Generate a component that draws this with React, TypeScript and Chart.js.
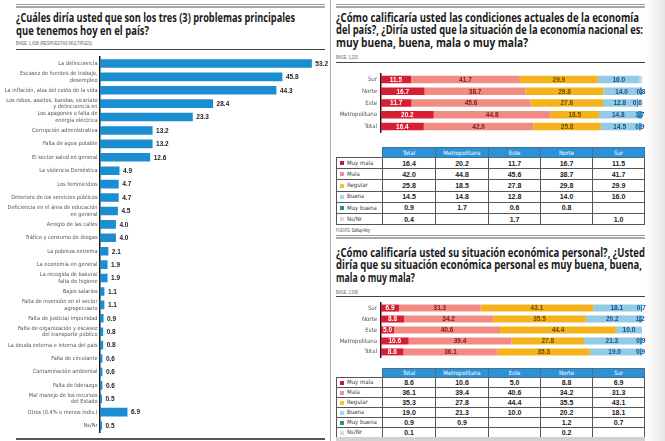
import React, { useEffect, useLayoutEffect, useRef } from "react";
import { Chart, registerables } from "chart.js";

Chart.register(...registerables);

// ---------------- DATA ----------------
const problemLabels: (string | string[])[] = [
  "La delincuencia",
  ["Escasez de fuentes de trabajo,", "desempleo"],
  "La inflación, alza del costo de la vida",
  ["Los robos, asaltos, bandas, sicariato", "y delincuencia en"],
  ["Los apagones o falta de", "energía eléctrica"],
  "Corrupción administrativa",
  "Falta de agua potable",
  "El sector salud en general",
  "La violencia Doméstica",
  "Los feminicidios",
  "Deterioro de los servicios públicos",
  ["Deficiencia en el área de educación", "en general"],
  "Arreglo de las calles",
  "Tráfico y consumo de drogas",
  "La pobreza extrema",
  "La economía en general",
  ["La recogida de basura/", "falta de higiene"],
  "Bajos salarios",
  ["Falta de inversión en el sector", "agropecuario"],
  "Falta de justicia/ impunidad",
  ["Falta de organización y escasez", "del transporte público"],
  "La deuda externa e interna del país",
  "Falta de circulante",
  "Contaminación ambiental",
  "Falta de liderazgo",
  ["Mal manejo de los recursos", "del Estado"],
  "Otros (0.4% o menos indiv.)",
  "Ns/Nr",
];
const problemValues = [
  53.2, 45.8, 44.3, 28.4, 23.3, 13.2, 13.2, 12.6, 4.9, 4.7, 4.7, 4.5, 4.0, 4.0,
  2.1, 1.9, 1.9, 1.1, 1.1, 0.9, 0.8, 0.8, 0.6, 0.6, 0.6, 0.5, 6.9, 0.5,
];

const regionColumns = ["Total", "Metropolitana", "Este", "Norte", "Sur"];
const ratingLabels = ["Muy mala", "Mala", "Regular", "Buena", "Muy buena", "Ns/Nr"];

// national economy (order = regionColumns)
const nacMuyMala = [16.4, 20.2, 11.7, 16.7, 11.5];
const nacMala = [42.0, 44.8, 45.6, 38.7, 41.7];
const nacRegular = [25.8, 18.5, 27.8, 29.8, 29.9];
const nacBuena = [14.5, 14.8, 12.8, 14.0, 16.0];
const nacMuyBuena = [0.9, 1.7, 0.6, 0.8, null];
const nacNsNr = [0.4, null, 1.7, null, 1.0];

// personal economy (order = regionColumns)
const perMuyMala = [8.6, 10.6, 5.0, 8.8, 6.9];
const perMala = [36.1, 39.4, 40.6, 34.2, 31.3];
const perRegular = [35.3, 27.8, 44.4, 35.5, 43.1];
const perBuena = [19.0, 21.3, 10.0, 20.2, 18.1];
const perMuyBuena = [0.9, 0.9, null, 1.2, 0.7];
const perNsNr = [0.1, null, null, 0.2, null];

// ---------------- STYLE ----------------
const NARROW = '"Liberation Sans Narrow", "DejaVu Sans Condensed", "Liberation Sans", sans-serif';
const SANS = '"Liberation Sans", Arial, sans-serif';
const TITLE_FONT = '"Open Sans", "Noto Sans", sans-serif';
const segColors = ["#d81e34", "#f28b82", "#f5b31b", "#92cbe8", "#2f8fd6", "#d6d6d6"];
const segLabelColors = ["#ffffff", "#7a2020", "#6a4a00", "#1d4f86", "#1d4f86"];
const markerColors = ["#c4174f", "#ef8f9a", "#f4c22b", "#a9d5ec", "#23909c", "#dadada"];

function FitLine(props: {
  text: React.ReactNode;
  x: number;
  y: number;
  w: number;
  size: number;
  weight?: number;
  color?: string;
  family?: string;
}) {
  const ref = useRef<HTMLDivElement>(null);
  useLayoutEffect(() => {
    const el = ref.current;
    if (!el) return;
    const fit = () => {
      el.style.transform = "none";
      const nat = el.getBoundingClientRect().width;
      if (nat > 0) el.style.transform = `scaleX(${props.w / nat})`;
    };
    fit();
    const fonts: any = (document as any).fonts;
    if (fonts && fonts.ready) fonts.ready.then(fit);
  }, [props.w]);
  return (
    <div
      ref={ref}
      style={{
        position: "absolute",
        left: props.x,
        top: props.y,
        whiteSpace: "nowrap",
        fontSize: props.size,
        lineHeight: `${props.size}px`,
        fontWeight: props.weight ?? 700,
        fontFamily: props.family ?? TITLE_FONT,
        color: props.color ?? "#1a1a1a",
        transformOrigin: "0 0",
      }}
    >
      {props.text}
    </div>
  );
}

function HLine({ x, y, w, h, color }: { x: number; y: number; w: number; h: number; color: string }) {
  return <div style={{ position: "absolute", left: x, top: y, width: w, height: h, background: color }} />;
}

function ProblemsChart() {
  const ref = useRef<HTMLCanvasElement>(null);
  useEffect(() => {
    const valuePlugin = {
      id: "valueLabels",
      afterDatasetsDraw(chart: any) {
        const ctx = chart.ctx;
        const meta = chart.getDatasetMeta(0);
        ctx.save();
        ctx.font = `bold 6.5px ${SANS}`;
        ctx.fillStyle = "#1e1e1e";
        ctx.textAlign = "left";
        ctx.textBaseline = "middle";
        meta.data.forEach((el: any, i: number) => {
          const v = chart.data.datasets[0].data[i];
          ctx.fillText(Number(v).toFixed(1), el.x + 3.5, el.y + 0.5);
        });
        ctx.restore();
      },
    };
    const chart = new Chart(ref.current!, {
      type: "bar",
      data: {
        labels: problemLabels,
        datasets: [
          {
            data: problemValues,
            backgroundColor: "#1b8ed1",
            barPercentage: 0.64,
            categoryPercentage: 1,
          },
        ],
      },
      options: {
        indexAxis: "y",
        animation: false,
        responsive: false,
        maintainAspectRatio: false,
        layout: { padding: { top: 0, bottom: 0, left: 0, right: 7 } },
        plugins: { legend: { display: false }, tooltip: { enabled: false } },
        scales: {
          x: { display: false, min: 0, max: 56 },
          y: {
            grid: { display: false, drawTicks: false },
            border: { display: true, color: "#1a1a1a", width: 1.5 },
            ticks: {
              autoSkip: false,
              padding: 2.5,
              color: "#555",
              font: { size: 5.6, family: NARROW, lineHeight: 1.15 },
            },
            afterFit: (s: any) => {
              s.width = 100;
            },
          },
        },
      } as any,
      plugins: [valuePlugin],
    });
    return () => chart.destroy();
  }, []);
  return (
    <canvas
      ref={ref}
      width={330}
      height={387}
      style={{ position: "absolute", left: 0, top: 51, width: 330, height: 387 }}
    />
  );
}

function StackedChart({ top, height, series }: { top: number; height: number; series: (number | null)[][] }) {
  const ref = useRef<HTMLCanvasElement>(null);
  useEffect(() => {
    const labelPlugin = {
      id: "stackLabels",
      afterDatasetsDraw(chart: any) {
        const ctx = chart.ctx;
        ctx.save();
        ctx.font = `bold 6.5px ${SANS}`;
        ctx.textAlign = "center";
        ctx.textBaseline = "middle";
        chart.data.datasets.forEach((ds: any, di: number) => {
          if (di > 4) return;
          const meta = chart.getDatasetMeta(di);
          meta.data.forEach((el: any, i: number) => {
            const v = ds.data[i];
            if (v == null) return;
            const p = el.getProps(["x", "y", "base"], true);
            ctx.fillStyle = segLabelColors[di];
            ctx.fillText(Number(v).toFixed(1), (p.x + p.base) / 2, p.y + 0.5);
          });
        });
        ctx.restore();
      },
    };
    const labels = [...regionColumns].reverse();
    const chart = new Chart(ref.current!, {
      type: "bar",
      data: {
        labels,
        datasets: series.map((arr, k) => ({
          label: ratingLabels[k],
          data: [...arr].reverse(),
          backgroundColor: segColors[k],
          barPercentage: 0.64,
          categoryPercentage: 1,
          clip: false,
        })),
      },
      options: {
        indexAxis: "y",
        animation: false,
        responsive: false,
        maintainAspectRatio: false,
        layout: { padding: { top: 0, bottom: 0, left: 0, right: 11 } },
        plugins: { legend: { display: false }, tooltip: { enabled: false } },
        scales: {
          x: { stacked: true, display: false, min: 0, max: 100 },
          y: {
            stacked: true,
            grid: { display: false, drawTicks: false },
            border: { display: true, color: "#1a1a1a", width: 1.5 },
            ticks: {
              padding: 4,
              color: "#555",
              font: { size: 6, family: NARROW },
            },
            afterFit: (s: any) => {
              s.width = 48;
            },
          },
        },
      } as any,
      plugins: [labelPlugin],
    });
    return () => chart.destroy();
  }, []);
  return (
    <canvas
      ref={ref}
      width={320}
      height={height}
      style={{ position: "absolute", left: 333, top, width: 320, height }}
    />
  );
}

function RatingTable({ top, headH, rowH, series }: { top: number; headH: number; rowH: number; series: (number | null)[][] }) {
  const colW = [46, 53, 53, 52, 52, 52];
  const headStyle: React.CSSProperties = {
    background: "#2b92d8",
    color: "#fff",
    fontSize: 6,
    fontWeight: 400,
    fontFamily: NARROW,
    border: "1px solid #4a6f8c",
    padding: 0,
    lineHeight: "6px",
    textAlign: "center",
  };
  const labelCell: React.CSSProperties = {
    border: "1px solid #555",
    padding: "0 0 0 3px",
    fontSize: 6,
    lineHeight: "6px",
    color: "#3a3a3a",
    fontFamily: NARROW,
    textAlign: "left",
    whiteSpace: "nowrap",
  };
  const valCell: React.CSSProperties = {
    border: "1px solid #555",
    padding: 0,
    fontSize: 7,
    lineHeight: "7px",
    fontWeight: 700,
    color: "#222",
    fontFamily: SANS,
    textAlign: "center",
  };
  return (
    <table
      style={{
        position: "absolute",
        left: 336,
        top,
        width: 308,
        borderCollapse: "collapse",
        tableLayout: "fixed",
        background: "#fff",
      }}
    >
      <colgroup>
        {colW.map((w, i) => (
          <col key={i} style={{ width: w }} />
        ))}
      </colgroup>
      <thead>
        <tr style={{ height: headH }}>
          <th style={{ border: "none", padding: 0 }}></th>
          {regionColumns.map((r) => (
            <th key={r} style={headStyle}>
              {r}
            </th>
          ))}
        </tr>
      </thead>
      <tbody>
        {ratingLabels.map((lab, k) => (
          <tr key={lab} style={{ height: rowH }}>
            <td style={labelCell}>
              <span
                style={{
                  display: "inline-block",
                  width: 4,
                  height: 4,
                  background: markerColors[k],
                  marginRight: 3,
                  verticalAlign: "middle",
                }}
              />
              <span style={{ verticalAlign: "middle" }}>{lab}</span>
            </td>
            {series[k].map((v, i) => (
              <td key={i} style={valCell}>
                {v == null ? "" : v.toFixed(1)}
              </td>
            ))}
          </tr>
        ))}
      </tbody>
    </table>
  );
}

export default function App() {
  const nacSeries = [nacMuyMala, nacMala, nacRegular, nacBuena, nacMuyBuena, nacNsNr];
  const perSeries = [perMuyMala, perMala, perRegular, perBuena, perMuyBuena, perNsNr];
  const T = 13;
  return (
    <div
      style={{
        position: "fixed",
        left: 0,
        top: 0,
        width: 665,
        height: 441,
        background: "#fff",
        overflow: "hidden",
      }}
    >
      {/* right gutter shading */}
      <div
        style={{
          position: "absolute",
          left: 646,
          top: 0,
          width: 19,
          height: 441,
          background: "linear-gradient(to right, #ffffff, #e6e6e6)",
        }}
      />
      {/* vertical divider */}
      <HLine x={330} y={0} w={1} h={441} color="#a8a8a8" />

      {/* ---------- LEFT PANEL ---------- */}
      <HLine x={16} y={4} w={309} h={1} color="#9a9a9a" />
      <HLine x={16} y={6} w={309} h={2} color="#a9a9a9" />
      <FitLine text="¿Cuáles diría usted que son los tres (3) problemas principales" x={16} y={11} w={279} size={T} />
      <FitLine text="que tenemos hoy en el país?" x={16} y={23.5} w={133} size={T} />
      <FitLine text="BASE: 1,608 (RESPUESTAS MULTIPLES)" x={16} y={41} w={76} size={5} weight={400} color="#666" family={SANS} />
      <HLine x={16} y={49} w={309} h={1} color="#444" />
      <ProblemsChart />
      <HLine x={16} y={438} w={309} h={1.5} color="#555" />

      {/* ---------- RIGHT TOP PANEL ---------- */}
      <HLine x={336} y={4} w={309} h={1} color="#9a9a9a" />
      <HLine x={336} y={6} w={309} h={2} color="#a9a9a9" />
      <FitLine text="¿Cómo calificaría usted las condiciones actuales de la economía" x={336} y={10.5} w={303} size={T} />
      <FitLine text="del país?, ¿Diría usted que la situación de la economía nacional es:" x={336} y={23} w={307} size={T} />
      <FitLine text="muy buena, buena, mala o muy mala?" x={336} y={35.5} w={192} size={T} />
      <FitLine text="BASE: 1,203" x={336} y={55} w={22} size={5} weight={400} color="#666" family={SANS} />
      <HLine x={336} y={62} w={309} h={1} color="#444" />
      <StackedChart top={66} height={74} series={nacSeries} />
      <RatingTable top={147} headH={10} rowH={11.2} series={nacSeries} />
      <FitLine
        text={
          <span>
            FUENTE: <b>Gallup-Hoy</b>
          </span>
        }
        x={336}
        y={228}
        w={34}
        size={5}
        weight={400}
        color="#666"
        family={SANS}
      />
      <HLine x={336} y={235} w={309} h={1} color="#9a9a9a" />
      <HLine x={336} y={237} w={309} h={2} color="#a9a9a9" />

      {/* ---------- RIGHT BOTTOM PANEL ---------- */}
      <FitLine text="¿Cómo calificaría usted su situación económica personal?, ¿Usted" x={336} y={245.5} w={309} size={T} />
      <FitLine text="diría que su situación económica personal es muy buena, buena," x={336} y={258} w={306} size={T} />
      <FitLine text="mala o muy mala?" x={336} y={270.5} w={79} size={T} />
      <FitLine text="BASE: 1,608" x={336} y={289.5} w={22} size={5} weight={400} color="#666" family={SANS} />
      <HLine x={336} y={296} w={309} h={1} color="#444" />
      <StackedChart top={295} height={70} series={perSeries} />
      <RatingTable top={368} headH={9} rowH={10} series={perSeries} />
      <HLine x={336} y={437} w={309} h={4} color="#d2d2d2" />
    </div>
  );
}
